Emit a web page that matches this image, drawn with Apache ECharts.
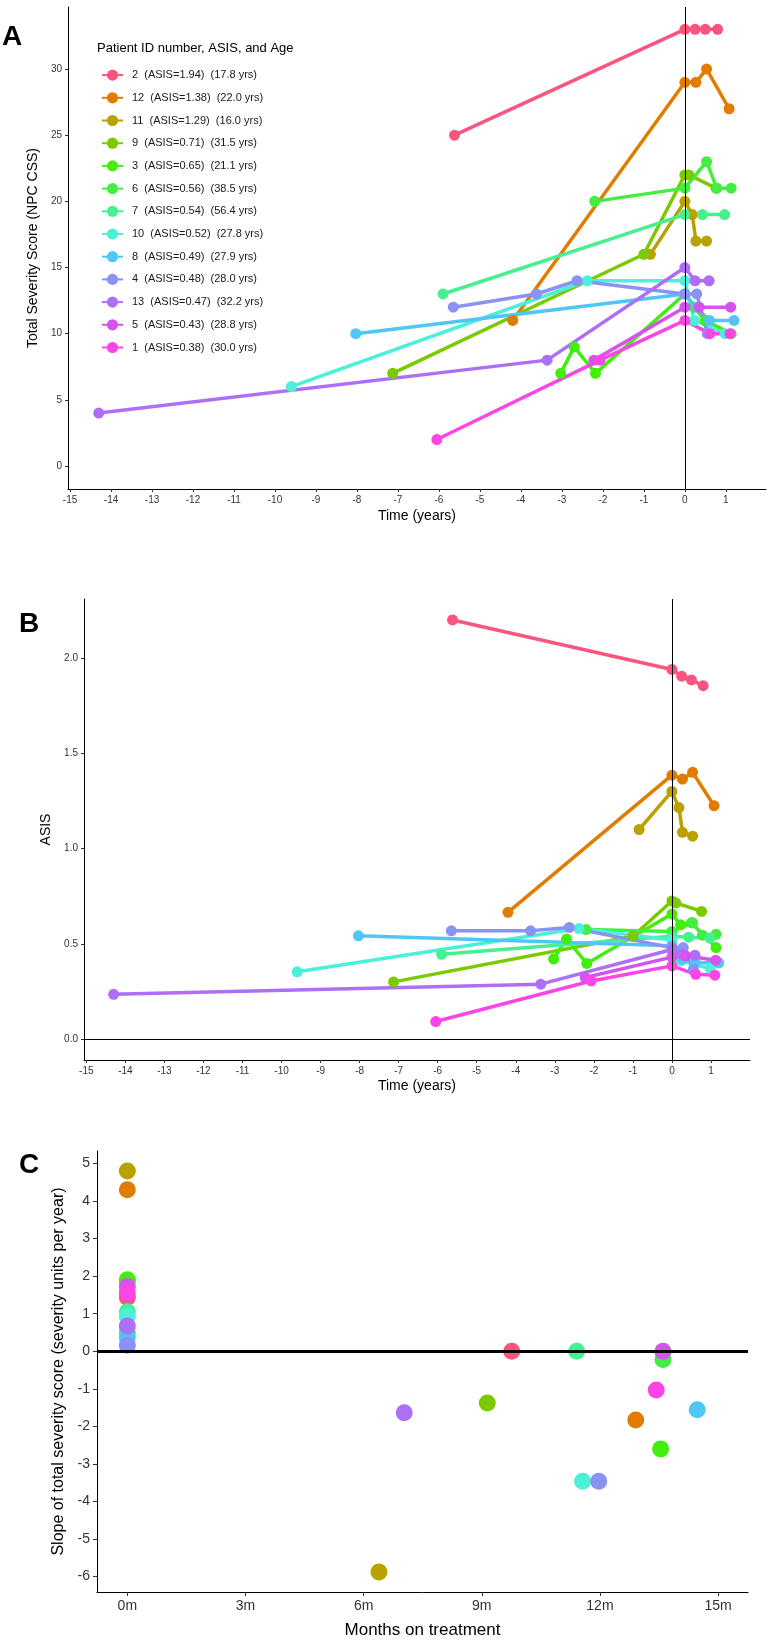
<!DOCTYPE html>
<html>
<head>
<meta charset="utf-8">
<title>NPC severity and ASIS over time</title>
<script src="https://cdn.jsdelivr.net/npm/echarts@6/dist/echarts.min.js"></script>
<style>
  html, body { margin: 0; padding: 0; background: #fff; }
  #container { width: 773px; height: 1650px; }
</style>
</head>
<body>
<div id="container"></div>
<script>
// patients, in legend order
var patientIds = ['2', '12', '11', '9', '3', '6', '7', '10', '8', '4', '13', '5', '1'];
var legendText = [
  '2  (ASIS=1.94)  (17.8 yrs)',
  '12  (ASIS=1.38)  (22.0 yrs)',
  '11  (ASIS=1.29)  (16.0 yrs)',
  '9  (ASIS=0.71)  (31.5 yrs)',
  '3  (ASIS=0.65)  (21.1 yrs)',
  '6  (ASIS=0.56)  (38.5 yrs)',
  '7  (ASIS=0.54)  (56.4 yrs)',
  '10  (ASIS=0.52)  (27.8 yrs)',
  '8  (ASIS=0.49)  (27.9 yrs)',
  '4  (ASIS=0.48)  (28.0 yrs)',
  '13  (ASIS=0.47)  (32.2 yrs)',
  '5  (ASIS=0.43)  (28.8 yrs)',
  '1  (ASIS=0.38)  (30.0 yrs)'
];

// visit times (years relative to treatment start), one list per patient
var visitTimes = [
  [-5.62, 0, 0.25, 0.5, 0.8],
  [-4.2, 0, 0.27, 0.53, 1.08],
  [-0.84, 0, 0.18, 0.27, 0.53],
  [-7.13, -1.0, 0, 0.1, 0.76],
  [-3.03, -2.7, -2.18, 0, 0.22, 0.5, 1.13],
  [-2.2, 0, 0.53, 0.78, 1.13],
  [-5.9, 0, 0.43, 0.97],
  [-9.6, -2.38, 0, 0.23, 0.98],
  [-8.03, 0, 0.27, 0.6, 1.2],
  [-5.65, -3.62, -2.63, 0, 0.29, 0.55],
  [-14.3, -3.36, 0, 0.25, 0.59],
  [-2.22, 0, 0.35, 1.12],
  [-6.05, -2.07, 0, 0.61, 1.1]
];
// total severity score (NPC CSS) at each visit
var severityScore = [
  [25, 33, 33, 33, 33],
  [11, 29, 29, 30, 27],
  [16, 20, 19, 17, 17],
  [7, 16, 22, 22, 21],
  [7, 9, 7, 13, 12, 11, 10],
  [20, 21, 23, 21, 21],
  [13, 19, 19, 19],
  [6, 14, 14, 11, 10],
  [10, 13, 12, 11, 11],
  [12, 13, 14, 13, 13, 10],
  [4, 8, 15, 14, 14],
  [8, 12, 12, 12],
  [2, 8, 11, 10, 10]
];
// ASIS at each visit
var asisValue = [
  [2.2, 1.94, 1.905, 1.885, 1.855],
  [0.665, 1.385, 1.365, 1.40, 1.225],
  [1.10, 1.30, 1.215, 1.085, 1.065],
  [0.30, 0.54, 0.725, 0.715, 0.67],
  [0.42, 0.525, 0.397, 0.656, 0.60, 0.61, 0.48],
  [0.575, 0.565, 0.61, 0.545, 0.55],
  [0.445, 0.54, 0.535, 0.53],
  [0.353, 0.58, 0.52, 0.41, 0.37],
  [0.542, 0.49, 0.42, 0.40, 0.40],
  [0.568, 0.568, 0.586, 0.48, 0.48, 0.367],
  [0.235, 0.288, 0.47, 0.445, 0.44],
  [0.323, 0.43, 0.437, 0.414],
  [0.092, 0.305, 0.384, 0.34, 0.335]
];

// panel C: slope before treatment (at 0m) and after treatment
var preSlope = [1.43, 4.3, 4.8, 1.87, 1.9, 0.5, 1.05, 0.93, 0.37, 0.16, 0.67, 1.72, 1.55];
var postMonths = [9.76, 12.91, 6.39, 9.14, 13.54, 13.6, 11.41, 11.56, 14.47, 11.97, 7.03, 13.6, 13.43];
var postSlope = [0, -1.83, -5.88, -1.38, -2.6, -0.22, 0, -3.46, -1.56, -3.46, -1.64, 0, -1.03];

// tick labels
var yearTicks = [-15, -14, -13, -12, -11, -10, -9, -8, -7, -6, -5, -4, -3, -2, -1, 0, 1];
var scoreTicks = [0, 5, 10, 15, 20, 25, 30];
var asisTicks = [0, 0.5, 1.0, 1.5, 2.0];
var monthTicks = [0, 3, 6, 9, 12, 15];
var slopeTicks = [-6, -5, -4, -3, -2, -1, 0, 1, 2, 3, 4, 5];

var palette = ['#F9557E', '#E27C00', '#B9A100', '#7BCA00', '#42EE0C', '#42EE42', '#47F08F',
               '#4BF0D8', '#50C6F6', '#8A93F5', '#AE6EF6', '#D653EE', '#FC45E6'];

var FONT = 'Liberation Sans, Arial, sans-serif';

function valueAxis(grid, min, max, ticks, fmt, name, nameGap, nameSize, labelSize, tickLen) {
  return {
    gridIndex: grid, type: 'value', min: min, max: max,
    axisLine: { onZero: false, lineStyle: { color: '#000', width: 1 } },
    axisTick: { customValues: ticks, length: tickLen, lineStyle: { color: '#333' } },
    axisLabel: { customValues: ticks, formatter: fmt, fontSize: labelSize, color: '#333',
                 margin: tickLen + 3, fontFamily: FONT },
    splitLine: { show: false },
    name: name, nameLocation: 'middle', nameGap: nameGap,
    nameTextStyle: { fontSize: nameSize, color: '#000', fontFamily: FONT }
  };
}

var series = [];
var last = patientIds.length - 1;
patientIds.forEach(function (id, i) {
  var common = {
    name: id, type: 'line', symbol: 'circle', symbolSize: 11,
    lineStyle: { width: 3.5, color: palette[i] }, itemStyle: { color: palette[i] },
    emphasis: { disabled: true }, animation: false, z: 2
  };
  var a = Object.assign({}, common, {
    xAxisIndex: 0, yAxisIndex: 0,
    data: visitTimes[i].map(function (t, k) { return [t, severityScore[i][k]]; })
  });
  var b = Object.assign({}, common, {
    xAxisIndex: 1, yAxisIndex: 1,
    data: visitTimes[i].map(function (t, k) { return [t, asisValue[i][k]]; })
  });
  if (i === last) {
    a.markLine = { silent: true, symbol: 'none', label: { show: false }, animation: false,
      lineStyle: { color: '#000', width: 1, type: 'solid' }, data: [{ xAxis: 0 }] };
    b.markLine = { silent: true, symbol: 'none', label: { show: false }, animation: false,
      lineStyle: { color: '#000', width: 1, type: 'solid' }, data: [{ xAxis: 0 }, { yAxis: 0 }] };
  }
  series.push(a, b);
});
patientIds.forEach(function (id, i) {
  var c = {
    name: id, type: 'scatter', xAxisIndex: 2, yAxisIndex: 2,
    symbol: 'circle', symbolSize: 17, itemStyle: { color: palette[i], opacity: 1 },
    emphasis: { disabled: true }, animation: false, z: 2,
    data: [[0, preSlope[i]], [postMonths[i], postSlope[i]]]
  };
  if (i === last) {
    c.markLine = { silent: true, symbol: 'none', label: { show: false }, animation: false,
      lineStyle: { color: '#000', width: 3, type: 'solid' }, data: [{ yAxis: 0 }] };
  }
  series.push(c);
});

var chart = echarts.init(document.getElementById('container'), null, { renderer: 'canvas' });
chart.setOption({
  backgroundColor: '#fff',
  textStyle: { fontFamily: FONT },
  grid: [
    { left: 68, top: 7, width: 698, height: 482 },
    { left: 84, top: 599, width: 666, height: 461 },
    { left: 97, top: 1151, width: 651, height: 441 }
  ],
  xAxis: [
    valueAxis(0, -15.05, 1.98, yearTicks, null, 'Time (years)', 20, 14, 10, 3),
    valueAxis(1, -15.06, 2.0, yearTicks, null, 'Time (years)', 19, 14, 10, 3),
    valueAxis(2, -0.77, 15.76, monthTicks, function (v) { return v + 'm'; },
              'Months on treatment', 30, 17, 14, 4)
  ],
  yAxis: [
    valueAxis(0, -1.74, 34.69, scoreTicks, null, 'Total Severity Score (NPC CSS)', 24, 14, 10, 3),
    valueAxis(1, -0.11, 2.31, asisTicks, function (v) { return v.toFixed(1); }, 'ASIS', 26, 14, 10, 3),
    valueAxis(2, -6.41, 5.33, slopeTicks, null,
              'Slope of total severity score (severity units per year)', 28, 16, 14, 4)
  ],
  legend: {
    data: patientIds, orient: 'vertical', left: 96, top: 64.5,
    itemWidth: 21, itemHeight: 14, itemGap: 11.5, selectedMode: false,
    formatter: function (name) { return legendText[patientIds.indexOf(name)]; },
    textStyle: { fontSize: 11, color: '#1a1a1a', fontFamily: FONT, padding: [0, 0, 0, 4] }
  },
  graphic: [
    { type: 'text', left: 2, top: 23, style: { text: 'A', font: 'bold 28px ' + FONT, fill: '#000' } },
    { type: 'text', left: 97, top: 42, style: { text: 'Patient ID number, ASIS, and Age', font: '13px ' + FONT, fill: '#000' } },
    { type: 'text', left: 19, top: 610, style: { text: 'B', font: 'bold 28px ' + FONT, fill: '#000' } },
    { type: 'text', left: 19, top: 1151, style: { text: 'C', font: 'bold 28px ' + FONT, fill: '#000' } }
  ],
  series: series
});
</script>
</body>
</html>
